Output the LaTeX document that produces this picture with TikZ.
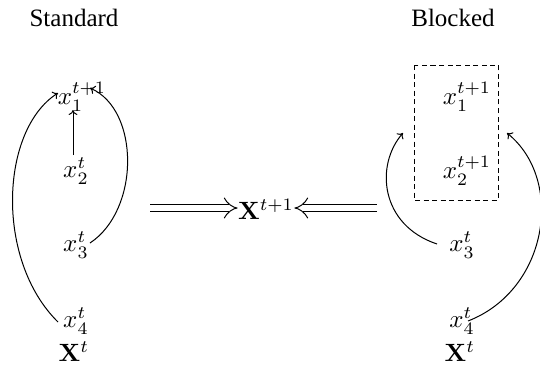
\documentclass[tikz,border=0pt]{standalone}
\usepackage[no-math]{fontspec}
\setmainfont{Liberation Serif}
\usetikzlibrary{arrows.meta}
\begin{document}
\begin{tikzpicture}[x=0.4pt,y=-0.4pt,
  lbl/.style={inner sep=1pt},
  conn/.style={-{To[length=2pt,width=3.5pt]}, line width=0.4pt},
  dbl/.style={double, double distance=2.6pt, line width=0.4pt, -{Implies}},
  blockbox/.style={dash pattern=on 2pt off 1.4pt, line width=0.4pt}]
\useasboundingbox (0,0) rectangle (540,374);
% Standard
\node (ts) at (74,18) {Standard};
\node[lbl] (a1) at (82,97) {$x_1^{t+1}$};
\node[lbl] (a2) at (76,171) {$x_2^{t}$};
\node[lbl] (a3) at (76,245) {$x_3^{t}$};
\node[lbl] (a4) at (76,321) {$x_4^{t}$};
\node[lbl] (aX) at (74,352) {$\mathbf{X}^{t}$};
\coordinate (a2t) at (73,155);
\coordinate (a1b) at (73,110);
\draw[conn] (a2t) -- (a1b);
\coordinate (a3s) at (90,243);
\coordinate (a1r) at (90,88);
\draw[conn] (a3s) .. controls (140,210) and (140,110) .. (a1r);
\coordinate (a4s) at (58,322);
\coordinate (a1l) at (58,93);
\draw[conn] (a4s) .. controls (-5,260) and (0,130) .. (a1l);
% center
\node[inner sep=0pt] (X1) at (266,209) {$\mathbf{X}^{t+1}$};
\coordinate (lstart) at (150,208);
\coordinate (rstart) at (377,208);
\draw[dbl] (lstart) -- (X1.west |- lstart);
\draw[dbl] (rstart) -- (X1.east |- rstart);
% Blocked
\node (tb) at (453,18) {Blocked};
\node[lbl] (b1) at (467,97) {$x_1^{t+1}$};
\node[lbl] (b2) at (467,171) {$x_2^{t+1}$};
\node[lbl] (b3) at (462,245) {$x_3^{t}$};
\node[lbl] (b4) at (462,321) {$x_4^{t}$};
\node[lbl] (bX) at (460,352) {$\mathbf{X}^{t}$};
\draw[blockbox] (414,65) rectangle (498,200);
\coordinate (b3s) at (437,244);
\coordinate (bl) at (403,133);
\draw[conn] (b3s) .. controls (380,225) and (375,165) .. (bl);
\coordinate (b4s) at (468,321);
\coordinate (br) at (507,133);
\draw[conn] (b4s) .. controls (548,290) and (565,180) .. (br);
\end{tikzpicture}
\end{document}
